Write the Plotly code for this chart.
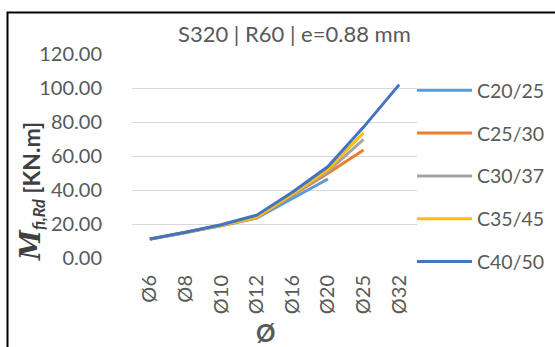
import plotly.graph_objects as go

categories = ["Ø6", "Ø8", "Ø10", "Ø12", "Ø16", "Ø20", "Ø25", "Ø32"]
series_names = ["C20/25", "C25/30", "C30/37", "C35/45", "C40/50"]
c20_25 = [11.0, 14.8, 19.0, 23.5, 35.0, 46.5]
c25_30 = [11.1, 14.9, 19.1, 23.7, 36.6, 49.9, 63.5]
c30_37 = [11.1, 14.9, 19.2, 23.8, 37.2, 51.0, 69.8]
c35_45 = [11.1, 15.0, 19.3, 24.0, 37.6, 52.2, 73.7]
c40_50 = [11.2, 15.1, 19.6, 25.2, 38.7, 53.8, 77.0, 102.0]
series_values = [c20_25, c25_30, c30_37, c35_45, c40_50]
colors = ["#5B9BD5", "#ED7D31", "#A5A5A5", "#FFC000", "#4472C4"]
y_ticks = [0, 20, 40, 60, 80, 100, 120]

W, H = 555, 347
L, R, T, B = 132, 138, 54, 89
pw, ph = W - L - R, H - T - B

def px_x(x):
    return (x - L) / pw

def px_y(y):
    return (H - B - y) / ph

FONT = "Lato"
GREY = "#595959"

fig = go.Figure()
for name, vals, col in zip(series_names, series_values, colors):
    fig.add_trace(go.Scatter(
        x=categories[:len(vals)], y=vals, name=name, mode="lines",
        line=dict(color=col, width=3), legendgroup=name,
    ))

fig.update_layout(
    width=W, height=H,
    margin=dict(l=L, r=R, t=T, b=B, autoexpand=False),
    paper_bgcolor="white", plot_bgcolor="white",
    font=dict(family=FONT, color=GREY, size=20),
    showlegend=True,
    legend=dict(x=px_x(412), xanchor="left", y=px_y(71), yanchor="top",
                font=dict(family=FONT, size=19.5, color=GREY),
                tracegroupgap=14.5, itemwidth=55, traceorder="grouped",
                maxheight=320, bgcolor="rgba(0,0,0,0)"),
    xaxis=dict(type="category", categoryorder="array", categoryarray=categories,
               range=[-0.5, len(categories) - 0.5],
               tickangle=-90, showgrid=False, showline=False, ticks="",
               tickfont=dict(family=FONT, size=20, color=GREY),
               ticklabelstandoff=12, zeroline=False),
    yaxis=dict(range=[0, 120], tickvals=y_ticks, tickformat=".2f",
               showgrid=True, gridcolor="#D9D9D9", gridwidth=1.3,
               zeroline=False, showline=False, ticks="",
               tickfont=dict(family=FONT, size=20, color=GREY),
               ticklabelstandoff=29),
)

fig.add_annotation(text="S320 | R60 | e=0.88 mm", xref="paper", yref="paper",
                   x=px_x(294.5), y=px_y(34), xanchor="center", yanchor="middle",
                   showarrow=False, font=dict(family=FONT, size=22, color=GREY))

fig.add_annotation(
    text="<b><i><span style='font-family:DejaVu Serif;font-size:27px'>M</span><sub>fi,Rd</sub></i> [KN.m]</b>",
    xref="paper", yref="paper", x=px_x(31), y=px_y(192),
    xanchor="center", yanchor="middle", textangle=-90, showarrow=False,
    font=dict(family=FONT, size=23, color="#404040"))

fig.add_annotation(text="<b>Ø</b>", xref="paper", yref="paper",
                   x=px_x(265), y=px_y(332), xanchor="center", yanchor="middle",
                   showarrow=False, font=dict(family=FONT, size=24, color=GREY))

fig.add_shape(type="rect", xref="paper", yref="paper",
              x0=px_x(7.5), y0=-1.0, x1=2.0, y1=px_y(12.5),
              line=dict(color="black", width=2), fillcolor="rgba(0,0,0,0)", layer="below")

fig.write_html("out.html", config={"displayModeBar": False},
               post_script="document.body.style.margin='0';document.body.style.padding='0';")
